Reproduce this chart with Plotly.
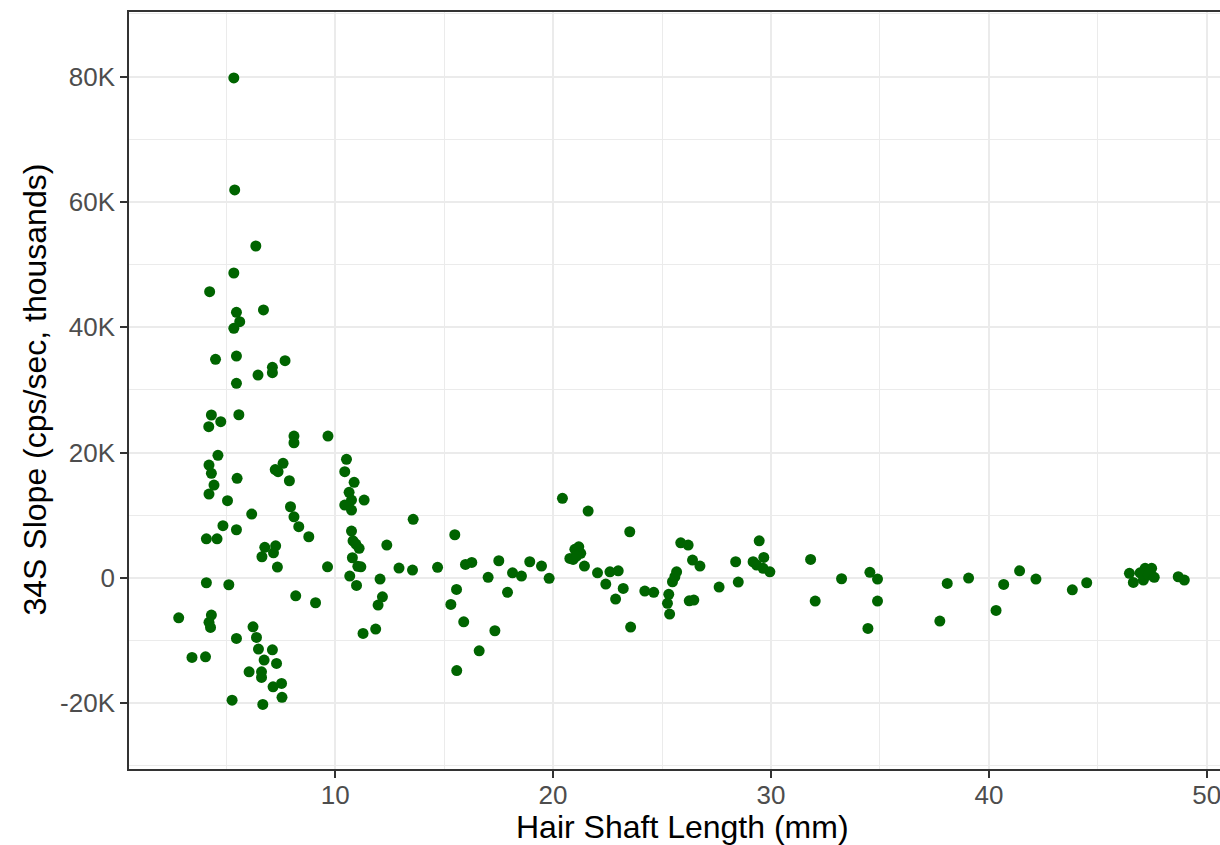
import plotly.graph_objects as go

# Hair shaft length (mm)
hair_length_mm = [
    2.82, 3.43, 4.05, 4.09, 4.09, 4.20, 4.21, 4.21, 4.32, 4.24,
    4.32, 4.32, 4.21, 4.28, 4.44, 4.51, 4.58, 4.62, 4.75, 4.85,
    5.06, 5.12, 5.27, 5.35, 5.39, 5.35, 5.47, 5.62, 5.35, 5.47,
    5.47, 5.58, 5.50, 5.47, 5.47, 6.17, 6.05, 6.23, 6.39, 6.48,
    6.36, 6.46, 6.71, 6.74, 6.62, 6.62, 6.68, 6.77, 6.64, 7.12,
    7.12, 7.12, 7.17, 7.27, 7.35, 7.31, 7.15, 7.38, 7.25, 7.61,
    7.54, 7.56, 7.70, 7.90, 7.95, 8.11, 8.11, 8.11, 8.33, 8.19,
    8.79, 9.10, 9.65, 9.67,
    10.52, 10.44, 10.87, 10.64, 10.75, 10.44, 10.75, 11.33, 10.75, 10.82,
    10.95, 11.10, 12.37, 10.79, 11.18, 11.04, 10.67, 10.98, 12.06, 12.93,
    13.55, 13.58, 14.70, 12.17, 11.97, 11.28, 11.86, 15.49, 15.98, 16.27,
    15.57, 15.31, 15.90, 15.58, 16.61, 17.33, 17.02, 17.51, 17.91, 18.14,
    18.55, 18.93, 19.47, 19.82,
    20.43, 21.61, 23.52, 21.00, 21.18, 21.27, 20.77, 20.92, 21.08, 21.44,
    22.04, 22.61, 22.99, 22.42, 23.22, 22.87, 23.56, 24.21, 24.62, 25.31,
    25.25, 25.35, 25.48, 25.59, 25.67, 25.86, 26.20, 26.40, 26.74, 26.25,
    26.46, 27.62, 28.38, 28.50, 29.46, 29.18, 29.34, 29.67, 29.64, 29.95,
    31.82, 32.03, 33.24, 34.54, 34.89, 34.89, 34.45, 37.75, 38.09, 39.07,
    40.33, 40.68, 41.41, 42.16, 43.83, 44.49, 46.45, 46.63, 46.94, 47.17,
    47.47, 47.09, 47.32, 47.59, 48.69, 48.97,
]

# 34S slope (cps/sec, thousands)
slope_k = [
    -6.37, -12.69, -12.59, 6.24, -0.78, 24.12, 18.00, 13.38, 16.68, 45.67,
    25.99, -5.94, -7.10, -7.90, 14.81, 34.88, 6.24, 19.55, 24.92, 8.32,
    12.31, -1.10, -19.51, 79.78, 61.90, 48.65, 42.38, 40.88, 39.83, 35.40,
    31.05, 26.03, 15.88, 7.68, -9.66, 10.18, -14.99, -7.81, -9.50, -11.36,
    52.96, 32.37, 42.75, -13.12, -14.99, -15.88, -20.19, 4.87, 3.37, 33.60,
    32.74, -11.48, 4.00, 5.12, 1.72, -13.65, -17.38, 16.94, 17.29, 18.28,
    -16.84, -19.07, 34.65, 15.50, 11.35, 9.75, 22.63, 21.56, 8.16, -2.86,
    6.56, -3.97, 1.77, 22.63,
    18.91, 16.94, 15.24, 13.65, 12.42, 11.62, 10.82, 12.42, 7.47, 5.92,
    5.40, 4.71, 5.24, 3.21, 1.77, 1.84, 0.29, -1.20, -0.19, 1.56,
    1.25, 9.34, 1.68, -3.02, -4.34, -8.86, -8.17, 6.88, 2.15, 2.47,
    -1.84, -4.23, -7.01, -14.80, -11.64, -8.44, 0.08, 2.73, -2.31, 0.81,
    0.29, 2.57, 1.88, -0.08,
    12.69, 10.66, 7.36, 4.55, 4.96, 3.91, 3.11, 2.95, 3.48, 1.88,
    0.81, 0.97, 1.13, -0.99, -1.68, -3.38, -7.85, -2.11, -2.31, -2.63,
    -4.07, -5.78, -0.62, 0.18, 0.97, 5.60, 5.24, 2.84, 1.88, -3.66,
    -3.54, -1.47, 2.57, -0.67, 5.92, 2.57, 2.04, 3.27, 1.52, 0.97,
    2.95, -3.70, -0.14, 0.88, -0.19, -3.70, -8.06, -6.90, -0.88, -0.03,
    -5.19, -1.04, 1.13, -0.19, -1.90, -0.78, 0.72, -0.72, 0.81, 1.52,
    1.52, -0.35, 0.45, 0.08, 0.18, -0.35,
]

x_ticks = [10, 20, 30, 40, 50]
y_tick_vals = [-20, 0, 20, 40, 60, 80]
y_tick_text = ["-20K", "0", "20K", "40K", "60K", "80K"]
x_minor = [5, 15, 25, 35, 45]
y_minor = [-30, -10, 10, 30, 50, 70, 90]

x_title = "Hair Shaft Length (mm)"
y_title = "34S Slope (cps/sec, thousands)"

FONT = "Liberation Sans, Arial, sans-serif"
GRID = "#EBEBEB"

fig = go.Figure()
fig.add_trace(go.Scatter(
    x=hair_length_mm, y=slope_k, mode="markers",
    marker=dict(color="#006400", size=11, line=dict(width=0)),
    showlegend=False, cliponaxis=False,
))

fig.update_layout(
    width=1220, height=845,
    margin=dict(l=129, r=0, t=12, b=76),
    paper_bgcolor="white", plot_bgcolor="white",
    font=dict(family=FONT, color="#4D4D4D", size=26),
    showlegend=False,
)

fig.update_xaxes(
    range=[0.539, 50.607],
    tickmode="array", tickvals=x_ticks,
    ticks="outside", ticklen=7, tickwidth=1.6, tickcolor="#333333",
    showline=True, linecolor="#333333", linewidth=1.6, mirror=True,
    showgrid=True, gridcolor=GRID, gridwidth=2,
    zeroline=False, ticklabeloverflow="allow", ticklabelstandoff=-5,
    tickfont=dict(family=FONT, color="#4D4D4D", size=26),
    minor=dict(tickmode="array", tickvals=x_minor, showgrid=True,
               gridcolor=GRID, gridwidth=1, ticks=""),
)
fig.update_yaxes(
    range=[-30.5, 90.3],
    tickmode="array", tickvals=y_tick_vals, ticktext=y_tick_text,
    ticks="outside", ticklen=7, tickwidth=1.6, tickcolor="#333333",
    showline=True, linecolor="#333333", linewidth=1.6, mirror=False,
    showgrid=True, gridcolor=GRID, gridwidth=2,
    zeroline=False,
    tickfont=dict(family=FONT, color="#4D4D4D", size=26),
    minor=dict(tickmode="array", tickvals=y_minor, showgrid=True,
               gridcolor=GRID, gridwidth=1, ticks=""),
)

fig.add_annotation(
    text=x_title, xref="paper", yref="paper",
    x=0.5069, y=-0.0766, xanchor="center", yanchor="middle",
    showarrow=False, font=dict(family=FONT, color="black", size=32),
)
fig.add_annotation(
    text=y_title, xref="paper", yref="paper",
    x=-0.0862, y=0.5013, xanchor="center", yanchor="middle",
    textangle=-90, showarrow=False,
    font=dict(family=FONT, color="black", size=32),
)

fig.write_html(
    "out.html",
    config={"displayModeBar": False},
    post_script="document.body.style.margin='0';document.body.style.overflow='hidden';",
)
